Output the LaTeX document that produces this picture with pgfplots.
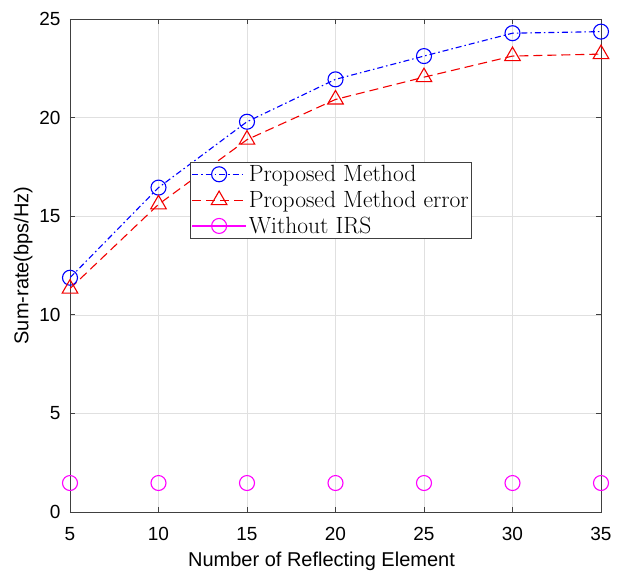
\documentclass[border=0pt]{standalone}
\usepackage{fontspec}
\usepackage{pgfplots}
\pgfplotsset{compat=1.18}
\newfontfamily\arialf{Liberation Sans}
\definecolor{mblue}{rgb}{0,0,1}
\definecolor{mred}{rgb}{0.95,0,0}
\definecolor{mmag}{rgb}{1,0,1}
\begin{document}
\begin{tikzpicture}
\begin{axis}[
  width=531pt, height=493pt, scale only axis,
  xmin=5, xmax=35, ymin=0, ymax=25,
  xtick={5,10,...,35}, ytick={0,5,...,25},
  grid=major, grid style={black!12, line width=0.6pt},
  tick align=inside, major tick length=5pt,
  axis line style={black!75, line width=0.8pt},
  tick style={black!75, line width=0.8pt},
  ticklabel style={font=\fontsize{19}{22}\selectfont\arialf},
  xticklabel style={yshift=-12pt},
  yticklabel style={xshift=-6pt},
  /pgf/number format/assume math mode=true,
  xlabel={Number of Reflecting Element},
  ylabel={Sum-rate(bps/Hz)},
  xlabel style={yshift=-4pt, xshift=-14pt},
  ylabel style={yshift=0pt},
  label style={font=\fontsize{20}{24}\selectfont\arialf},
  legend style={at={(0.226,0.71)}, anchor=north west,
    font=\fontsize{23.5}{27}\selectfont, draw=black!75, line width=0.8pt,
    inner sep=1pt, row sep=4pt},
  legend cell align=left,
  legend image code/.code={\draw[mark repeat=2,mark phase=2] plot coordinates {(0pt,0pt) (27pt,0pt) (54pt,0pt)};},
]
\coordinate (LL) at (rel axis cs:0,0);
\coordinate (UR) at (rel axis cs:1,1);
\addplot[mblue, line width=1.1pt, dash pattern=on 6pt off 3pt on 1.5pt off 3pt,
  mark=o, mark size=7.5pt, mark options={solid, line width=1.1pt}]
  coordinates {(5,11.88) (10,16.45) (15,19.79) (20,21.94) (25,23.12) (30,24.28) (35,24.36)};
\addlegendentry{Proposed Method}
\addplot[mred, line width=1.1pt, dash pattern=on 9pt off 5pt,
  mark=triangle, mark size=9pt, mark options={solid, line width=1.1pt}]
  coordinates {(5,11.33) (10,15.6) (15,18.88) (20,20.92) (25,22.05) (30,23.12) (35,23.22)};
\addlegendentry{Proposed Method error}
\addlegendimage{mmag, solid, line width=1.4pt, mark=o, mark size=7.5pt, mark options={line width=1.1pt}}
\addlegendentry{Without IRS}
\addplot[mmag, only marks, mark=o, mark size=7.5pt, mark options={line width=1.1pt}]
  coordinates {(5,1.47) (10,1.47) (15,1.47) (20,1.47) (25,1.47) (30,1.47) (35,1.47)};
\end{axis}
\pgfresetboundingbox
\path ([xshift=-70pt,yshift=-64pt]LL) rectangle ([xshift=17pt,yshift=19pt]UR);
\end{tikzpicture}
\end{document}
